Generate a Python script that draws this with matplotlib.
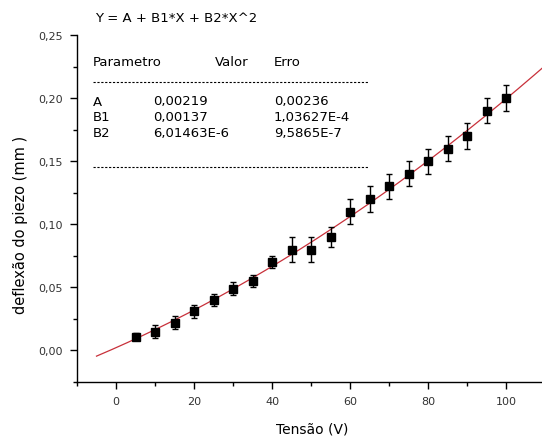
import numpy as np
import matplotlib
matplotlib.use("Agg")
import matplotlib.pyplot as plt
from matplotlib.ticker import MultipleLocator, FuncFormatter
from matplotlib.lines import Line2D

# Data
tensao = [5, 10, 15, 20, 25, 30, 35, 40, 45, 50, 55, 60, 65, 70, 75, 80, 85, 90, 95, 100]
deflexao = [0.011, 0.015, 0.022, 0.031, 0.040, 0.049, 0.055, 0.070, 0.080, 0.080,
            0.090, 0.110, 0.120, 0.130, 0.140, 0.150, 0.160, 0.170, 0.190, 0.200]
erro = [0.003, 0.005, 0.005, 0.005, 0.005, 0.005, 0.005, 0.005, 0.010, 0.010,
        0.008, 0.010, 0.010, 0.010, 0.010, 0.010, 0.010, 0.010, 0.010, 0.010]
param_names = ["A", "B1", "B2"]
param_values = [0.00219, 0.00137, 6.01463e-6]
param_errors = [0.00236, 1.03627e-4, 9.5865e-7]
param_value_labels = ["0,00219", "0,00137", "6,01463E-6"]
param_error_labels = ["0,00236", "1,03627E-4", "9,5865E-7"]

plt.rcParams['font.family'] = ['DejaVu Sans']
W, H = 542, 439
fig = plt.figure(figsize=(W/100, H/100), dpi=100)

x0, x1 = -10, 110
y0, y1 = -0.025, 0.25
left_px, bottom_px, top_px = 77, 383, 36
ax_w_px = (x1 - x0) * 3.9
ax_h_px = bottom_px - top_px
ax = fig.add_axes([left_px/W, (H-bottom_px)/H, ax_w_px/W, ax_h_px/H])
ax.set_xlim(x0, x1)
ax.set_ylim(y0, y1)

# fit curve from displayed parameters
xf = np.linspace(-5, 112, 300)
A, B1, B2 = param_values
ax.plot(xf, A + B1*xf + B2*xf**2, color='#c8303a', lw=0.9, zorder=2)

ax.errorbar(tensao, deflexao, yerr=erro, fmt='s', color='black', ms=5.5,
            ecolor='black', elinewidth=1.0, capsize=2.5, capthick=1.0, zorder=3)

for s in ['top', 'right']:
    ax.spines[s].set_visible(False)
ax.spines['left'].set_linewidth(1.0)
ax.spines['bottom'].set_linewidth(1.0)

ax.xaxis.set_major_locator(MultipleLocator(20))
ax.xaxis.set_minor_locator(MultipleLocator(10))
ax.yaxis.set_major_locator(MultipleLocator(0.05))
ax.yaxis.set_minor_locator(MultipleLocator(0.025))
ax.tick_params(which='major', direction='out', length=5, width=1, labelsize=8,
               pad=5, labelcolor='#333333')
ax.tick_params(which='minor', direction='out', length=3, width=1)
ax.yaxis.set_major_formatter(FuncFormatter(lambda v, p: f"{v:.2f}".replace('.', ',').replace('-0,00', '0,00')))
ax.xaxis.set_major_formatter(FuncFormatter(lambda v, p: f"{v:.0f}"))
ax.set_xticks([t for t in ax.get_xticks() if t >= 0 and t <= 100])

ax.set_xlabel("Tensão (V)", fontsize=10)
ax.xaxis.set_label_coords((312 - left_px) / ax_w_px, -(430 - bottom_px) / ax_h_px)
ax.xaxis.label.set_va('center')
ax.set_ylabel("deflexão do piezo (mm )", fontsize=10.5)
ax.yaxis.set_label_coords(-(left_px - 28) / ax_w_px, (bottom_px - 225) / ax_h_px)

def fx(px):
    return px / W

def fy(py):
    return 1 - py / H

fs = 9.5
fig.text(fx(95), fy(18), "Y = A + B1*X + B2*X^2", fontsize=fs, va='center', ha='left')
fig.text(fx(93), fy(62), "Parametro", fontsize=fs, va='center')
fig.text(fx(215), fy(62), "Valor", fontsize=fs, va='center')
fig.text(fx(274), fy(62), "Erro", fontsize=fs, va='center')
rows_y = [102, 118, 134]
for name, v, e, ry in zip(param_names, param_value_labels, param_error_labels, rows_y):
    fig.text(fx(93), fy(ry), name, fontsize=fs, va='center')
    fig.text(fx(153), fy(ry), v, fontsize=fs, va='center')
    fig.text(fx(274), fy(ry), e, fontsize=fs, va='center')
for ly in [83, 168]:
    fig.add_artist(Line2D([fx(93), fx(368)], [fy(ly), fy(ly)], transform=fig.transFigure,
                          color='black', lw=0.8, linestyle=(0, (2, 1.5))))

fig.savefig("out.png", dpi=100)
